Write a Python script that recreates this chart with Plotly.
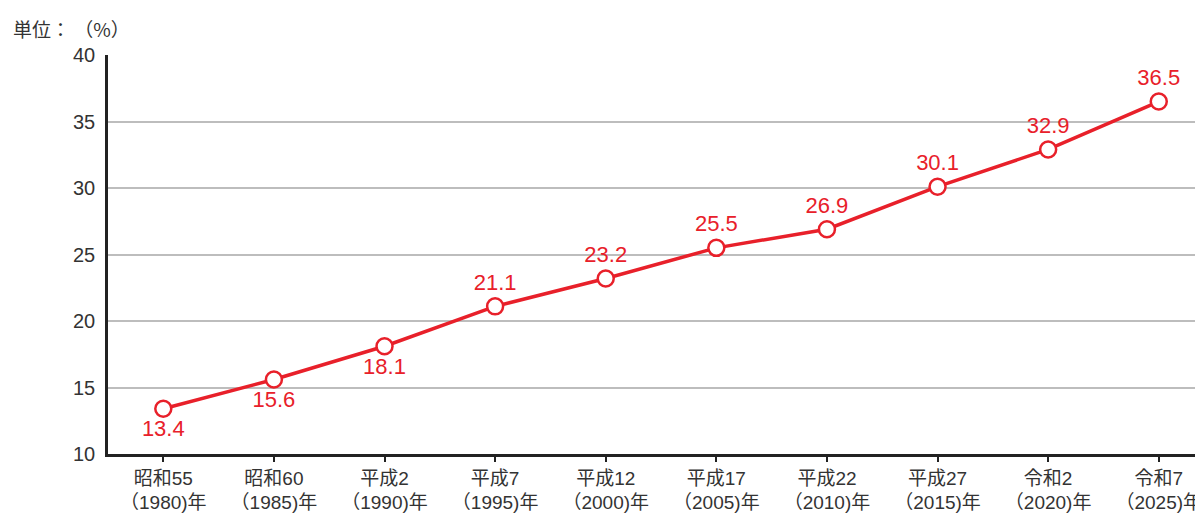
import plotly.graph_objects as go

eras = ["昭和55", "昭和60", "平成2", "平成7", "平成12", "平成17", "平成22", "平成27", "令和2", "令和7"]
years = ["1980", "1985", "1990", "1995", "2000", "2005", "2010", "2015", "2020", "2025"]
values = [13.4, 15.6, 18.1, 21.1, 23.2, 25.5, 26.9, 30.1, 32.9, 36.5]
label_pos = ["bottom center", "bottom center", "bottom center", "top center", "top center",
             "top center", "top center", "top center", "top center", "top center"]

ticktext = [f"{e}<br>（{y})年" for e, y in zip(eras, years)]
red = "#e8202a"
num_font = "Liberation Sans, Noto Sans CJK JP, sans-serif"
jp_font = "Noto Sans CJK JP"

fig = go.Figure()
fig.add_trace(go.Scatter(
    x=list(range(len(values))), y=values,
    mode="lines+markers+text",
    line=dict(color=red, width=3.5),
    marker=dict(size=16, color="white", line=dict(color=red, width=2.5)),
    text=[f"{v:.1f}" for v in values],
    textposition=label_pos,
    textfont=dict(color=red, size=22, family=num_font),
    cliponaxis=False,
    showlegend=False,
))

fig.update_layout(
    width=1195, height=510,
    margin=dict(l=100, r=0, t=47, b=64, autoexpand=False),
    plot_bgcolor="white", paper_bgcolor="white",
    font=dict(family=num_font, color="#333333"),
    xaxis=dict(
        range=[-0.5, 9.4], automargin=False,
        tickmode="array", tickvals=list(range(len(values))), ticktext=ticktext,
        tickfont=dict(size=19, color="#333333", family=num_font),
        ticklabeloverflow="allow",
        showline=True, linecolor="#222222", linewidth=2.5,
        ticks="outside", ticklen=5, tickwidth=2, tickcolor="#222222",
        showgrid=False, zeroline=False,
    ),
    yaxis=dict(
        range=[10, 40], dtick=5, automargin=False,
        tickfont=dict(size=20, color="#333333", family=num_font),
        showline=True, linecolor="#222222", linewidth=2.5,
        showgrid=True, gridcolor="#bdbdbd", gridwidth=2,
        ticks="", ticklabelstandoff=6, zeroline=False,
    ),
    annotations=[dict(
        text="単位： （%）", xref="paper", yref="paper", x=0, y=1,
        xanchor="left", yanchor="middle", showarrow=False,
        font=dict(size=19, color="#333333", family=jp_font),
        xshift=-97, yshift=27,
    )],
)

fig.write_html("out.html")
